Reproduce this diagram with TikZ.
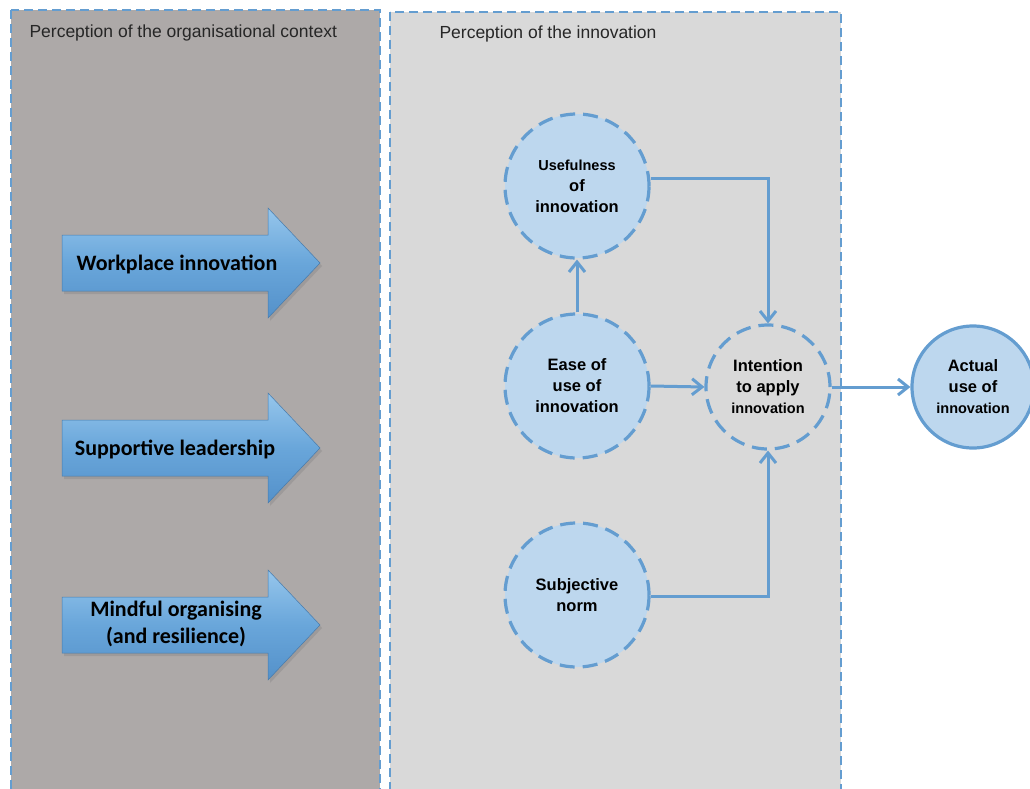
\documentclass[tikz,border=0pt]{standalone}
\usepackage{fontspec}
\setmainfont{Liberation Sans}
\newfontfamily\calib{Carlito}
\usetikzlibrary{shadows,arrows.meta}
\definecolor{panelA}{RGB}{173,169,168}
\definecolor{panelB}{RGB}{217,217,217}
\definecolor{edgeblue}{RGB}{100,157,208}
\definecolor{circfill}{RGB}{189,215,238}
\definecolor{arrtop}{RGB}{150,198,236}
\definecolor{arrmid}{RGB}{105,166,218}
\definecolor{arrbot}{RGB}{84,145,202}
\tikzset{
  panel/.style={draw=edgeblue, line width=2.6pt, dash pattern=on 9pt off 5pt},
  bubble/.style={circle, draw=edgeblue, fill=circfill, line width=3.2pt, dash pattern=on 15pt off 8pt, inner sep=0pt, minimum size=144pt, align=center, font=\bfseries\fontsize{16.5}{21}\selectfont},
  small/.style={font=\bfseries\fontsize{14.5}{21}\selectfont},
  conn/.style={draw=edgeblue, line width=3pt, -{Straight Barb[length=10pt,width=16pt,line width=3pt]}},
  blockarrow/.style={top color=arrtop, bottom color=arrbot, middle color=arrmid, draw=arrbot!85!black, line width=0.5pt, drop shadow={shadow xshift=2pt, shadow yshift=-3pt, opacity=0.35}},
  arrtext/.style={font=\calib\bfseries\fontsize{22}{27}\selectfont, align=center, text=black},
  paneltitle/.style={anchor=west, font=\fontsize{17.5}{18}\selectfont, text=black!85}
}
\begin{document}
\begin{tikzpicture}[x=1pt,y=-1pt]
\useasboundingbox (0,0) rectangle (1030,789);
\clip (0,0) rectangle (1030,789);
\fill[white] (0,0) rectangle (1030,789);
% panels
\path[panel, fill=panelA] (11,10) rectangle (380,800);
\path[panel, fill=panelB] (390,12) rectangle (841,800);
\node[paneltitle] (t1) at (26,33) {Perception of the organisational context};
\node[paneltitle] (t2) at (436,34) {Perception of the innovation};
% block arrows
\foreach \cy in {263, 448, 625}{
  \path[blockarrow] (62,\cy-28) -- (268,\cy-28) -- (268,\cy-55) -- (320,\cy) -- (268,\cy+55) -- (268,\cy+28) -- (62,\cy+28) -- cycle;
}
\node[arrtext] (w1) at (177,264) {Workplace innovation};
\node[arrtext] (w2) at (175,449) {Supportive leadership};
\node[arrtext] (w3) at (176,624) {Mindful organising\\(and resilience)};
% circles
\node[bubble] (use) at (577,186) {{\fontsize{14.5}{18}\selectfont Usefulness}\\of\\innovation};
\node[bubble] (ease) at (577,386) {Ease of\\use of\\innovation};
\node[bubble] (subj) at (577,595) {Subjective\\norm};
\node[bubble, fill=none, minimum size=124pt] (int) at (768,387) {Intention\\to apply\\{\fontsize{14.5}{18}\selectfont innovation}};
\node[bubble, solid, minimum size=122pt] (act) at (973,387) {Actual\\use of\\{\fontsize{14.5}{18}\selectfont innovation}};
% connectors
\draw[conn] (ease.north) -- (use.south);
\draw[conn] (use.east |- 0,178) -| (int.north);
\draw[conn] (ease.east) -- (int.west);
\draw[conn] (subj.east |- 0,596) -| (int.south);
\draw[conn] (int.east) -- (act.west);
\end{tikzpicture}
\end{document}
